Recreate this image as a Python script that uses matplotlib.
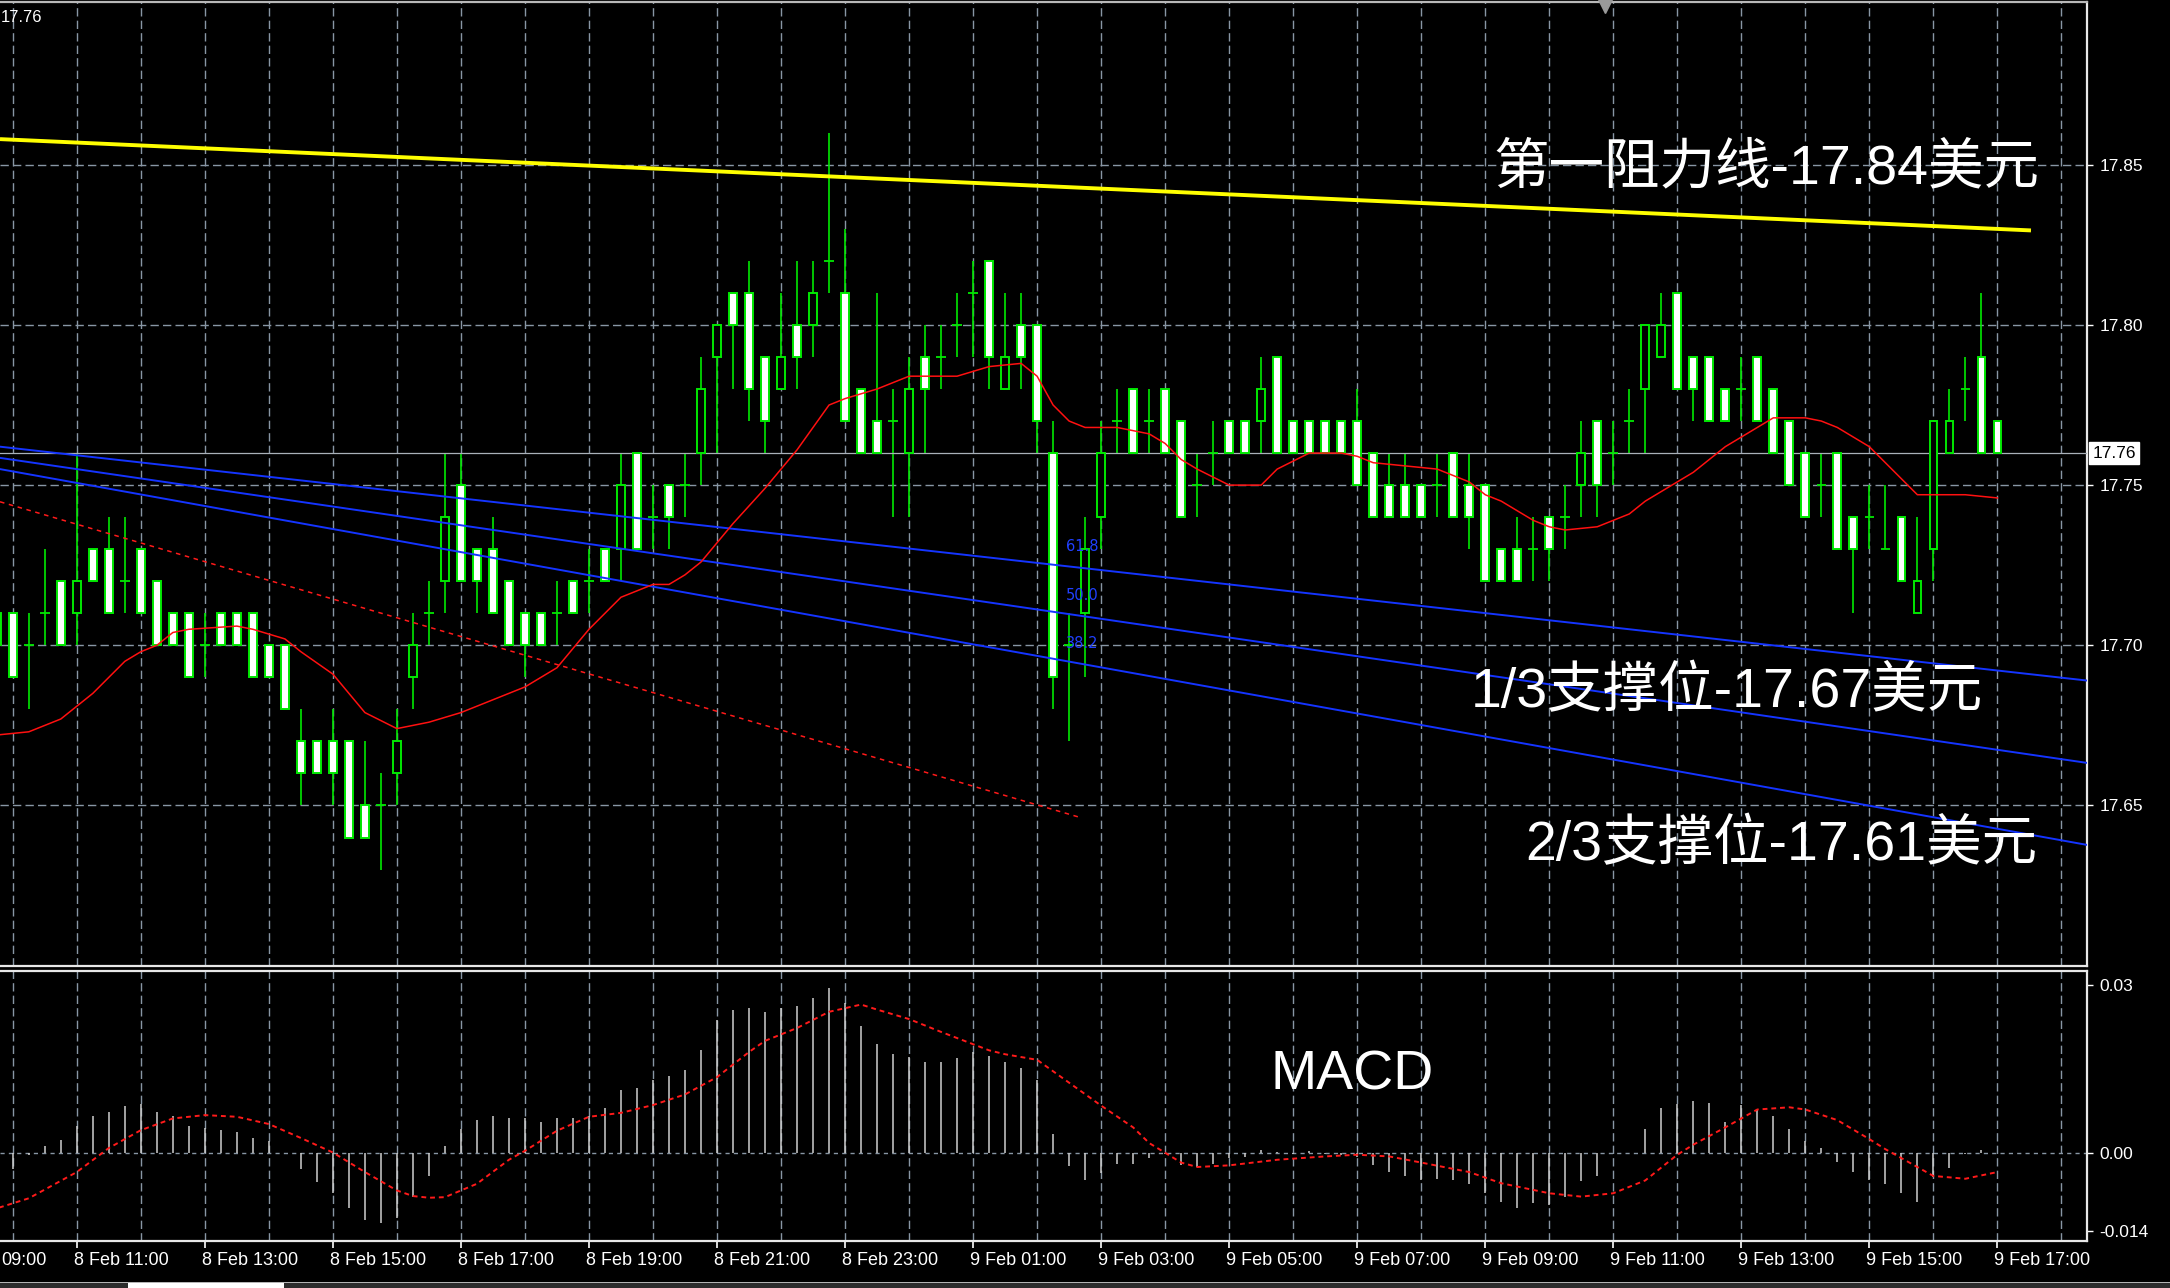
import numpy as np
import matplotlib
matplotlib.use('Agg')
import matplotlib.pyplot as plt
from matplotlib.patches import Rectangle

plt.rcParams['font.family'] = ['Liberation Sans', 'Noto Sans CJK SC', 'DejaVu Sans']

# 15 minute bars, x = number of quarter hours after 8 Feb 09:00
bar_idx = list(range(3, 129))
opens = [17.71, 17.71, 17.70, 17.71, 17.72, 17.71, 17.73, 17.73, 17.72, 17.73,
         17.72, 17.71, 17.71, 17.70, 17.71, 17.71, 17.71, 17.70, 17.70, 17.67,
         17.67, 17.67, 17.67, 17.65, 17.65, 17.66, 17.69, 17.71, 17.72, 17.75,
         17.73, 17.73, 17.72, 17.71, 17.71, 17.71, 17.72, 17.72, 17.73, 17.73,
         17.76, 17.74, 17.75, 17.75, 17.76, 17.79, 17.81, 17.81, 17.79, 17.78,
         17.80, 17.80, 17.82, 17.81, 17.78, 17.77, 17.77, 17.76, 17.79, 17.79,
         17.80, 17.81, 17.82, 17.78, 17.80, 17.80, 17.76, 17.70, 17.71, 17.74,
         17.77, 17.78, 17.77, 17.78, 17.77, 17.75, 17.76, 17.77, 17.77, 17.77,
         17.79, 17.77, 17.77, 17.77, 17.77, 17.77, 17.76, 17.75, 17.75, 17.75,
         17.75, 17.76, 17.75, 17.75, 17.73, 17.73, 17.73, 17.74, 17.74, 17.75,
         17.77, 17.76, 17.77, 17.78, 17.79, 17.81, 17.79, 17.79, 17.78, 17.78,
         17.79, 17.78, 17.77, 17.76, 17.75, 17.76, 17.74, 17.74, 17.73, 17.74,
         17.71, 17.73, 17.76, 17.78, 17.79, 17.77]
highs = [17.71, 17.71, 17.71, 17.73, 17.72, 17.76, 17.73, 17.74, 17.74, 17.73,
         17.72, 17.71, 17.71, 17.71, 17.71, 17.71, 17.71, 17.70, 17.70, 17.68,
         17.67, 17.68, 17.67, 17.67, 17.66, 17.68, 17.71, 17.72, 17.76, 17.76,
         17.73, 17.74, 17.72, 17.71, 17.71, 17.72, 17.72, 17.73, 17.73, 17.76,
         17.76, 17.75, 17.75, 17.76, 17.79, 17.80, 17.81, 17.82, 17.79, 17.81,
         17.82, 17.82, 17.86, 17.83, 17.78, 17.81, 17.78, 17.79, 17.80, 17.80,
         17.81, 17.82, 17.82, 17.81, 17.81, 17.80, 17.77, 17.71, 17.74, 17.77,
         17.78, 17.78, 17.78, 17.78, 17.77, 17.76, 17.77, 17.77, 17.77, 17.79,
         17.79, 17.77, 17.77, 17.77, 17.77, 17.78, 17.76, 17.76, 17.76, 17.75,
         17.76, 17.76, 17.76, 17.75, 17.73, 17.74, 17.74, 17.74, 17.75, 17.77,
         17.77, 17.77, 17.78, 17.80, 17.81, 17.81, 17.79, 17.79, 17.78, 17.79,
         17.79, 17.78, 17.77, 17.76, 17.76, 17.76, 17.74, 17.75, 17.75, 17.74,
         17.74, 17.77, 17.78, 17.79, 17.81, 17.77]
lows = [17.70, 17.69, 17.68, 17.70, 17.70, 17.70, 17.72, 17.71, 17.71, 17.71,
        17.70, 17.70, 17.69, 17.69, 17.70, 17.70, 17.69, 17.69, 17.68, 17.65,
        17.66, 17.65, 17.64, 17.64, 17.63, 17.65, 17.68, 17.70, 17.71, 17.72,
        17.71, 17.71, 17.70, 17.69, 17.70, 17.70, 17.71, 17.71, 17.72, 17.72,
        17.73, 17.73, 17.73, 17.74, 17.75, 17.76, 17.78, 17.77, 17.76, 17.78,
        17.78, 17.79, 17.81, 17.77, 17.76, 17.76, 17.74, 17.74, 17.76, 17.78,
        17.79, 17.79, 17.78, 17.78, 17.78, 17.76, 17.68, 17.67, 17.69, 17.73,
        17.76, 17.76, 17.76, 17.76, 17.74, 17.74, 17.75, 17.76, 17.76, 17.76,
        17.76, 17.76, 17.76, 17.76, 17.76, 17.75, 17.74, 17.74, 17.74, 17.74,
        17.74, 17.74, 17.73, 17.72, 17.72, 17.72, 17.72, 17.72, 17.73, 17.74,
        17.74, 17.75, 17.76, 17.76, 17.79, 17.78, 17.77, 17.77, 17.77, 17.77,
        17.77, 17.76, 17.75, 17.74, 17.74, 17.73, 17.71, 17.73, 17.73, 17.72,
        17.71, 17.72, 17.76, 17.77, 17.76, 17.76]
closes = [17.70, 17.69, 17.70, 17.71, 17.70, 17.72, 17.72, 17.71, 17.72, 17.71,
          17.70, 17.70, 17.69, 17.70, 17.70, 17.70, 17.69, 17.69, 17.68, 17.66,
          17.66, 17.66, 17.64, 17.64, 17.65, 17.67, 17.70, 17.71, 17.74, 17.72,
          17.72, 17.71, 17.70, 17.70, 17.70, 17.71, 17.71, 17.72, 17.72, 17.75,
          17.73, 17.74, 17.74, 17.75, 17.78, 17.80, 17.80, 17.78, 17.77, 17.79,
          17.79, 17.81, 17.82, 17.77, 17.76, 17.76, 17.77, 17.78, 17.78, 17.79,
          17.80, 17.81, 17.79, 17.79, 17.79, 17.77, 17.69, 17.70, 17.73, 17.76,
          17.77, 17.76, 17.77, 17.76, 17.74, 17.75, 17.76, 17.76, 17.76, 17.78,
          17.76, 17.76, 17.76, 17.76, 17.76, 17.75, 17.74, 17.74, 17.74, 17.74,
          17.75, 17.74, 17.74, 17.72, 17.72, 17.72, 17.73, 17.73, 17.74, 17.76,
          17.75, 17.76, 17.77, 17.80, 17.80, 17.78, 17.78, 17.77, 17.77, 17.78,
          17.77, 17.76, 17.75, 17.74, 17.75, 17.73, 17.73, 17.74, 17.73, 17.72,
          17.72, 17.77, 17.77, 17.78, 17.76, 17.76]

# red moving average, read at some bars
ma_idx = [3, 5, 7, 8, 9, 10, 11, 12, 13, 14, 15, 18, 19, 21, 22, 24, 26, 28, 30, 32,
          34, 36, 38, 40, 42, 44, 45, 46, 47, 49, 51, 53, 55, 56, 58, 60, 63, 65, 67, 68,
          69, 70, 71, 73, 75, 76, 77, 78, 80, 82, 83, 85, 87, 88, 89, 91, 93, 95, 96, 97,
          99, 100, 101, 103, 105, 106, 108, 109, 111, 113, 114, 116, 117, 118, 120, 121,
          123, 126, 128]
ma_vals = [17.672, 17.673, 17.677, 17.681, 17.685, 17.690, 17.695, 17.698, 17.700, 17.704,
           17.705, 17.706, 17.705, 17.702, 17.698, 17.691, 17.679, 17.674, 17.676, 17.679,
           17.683, 17.687, 17.693, 17.705, 17.715, 17.719, 17.719, 17.722, 17.726, 17.738,
           17.749, 17.761, 17.775, 17.777, 17.780, 17.784, 17.784, 17.787, 17.788, 17.784,
           17.775, 17.770, 17.768, 17.768, 17.766, 17.763, 17.758, 17.755, 17.750, 17.750,
           17.755, 17.760, 17.760, 17.759, 17.757, 17.756, 17.755, 17.751, 17.747, 17.745,
           17.739, 17.737, 17.736, 17.737, 17.741, 17.745, 17.751, 17.754, 17.762, 17.768,
           17.771, 17.771, 17.770, 17.768, 17.762, 17.757, 17.747, 17.747, 17.746]

# trend lines (x in bars, price)
yellow_x = [3.2, 130.1]
yellow_y = [17.858, 17.8295]
reddash_x = [3.2, 70.6]
reddash_y = [17.7448, 17.6464]
fan_x = [3.2, 133.6]
fan_y = [[17.762, 17.689], [17.7585, 17.6633], [17.755, 17.6377]]
fib_names = ['61.8', '50.0', '38.2']
fib_y = [17.7307, 17.7157, 17.7007]

# MACD
hist_idx = list(range(4, 129))
hist_vals = [-0.0030, -0.0005, 0.0011, 0.0022, 0.0047, 0.0066, 0.0072, 0.0083, 0.0086, 0.0072,
             0.0066, 0.0047, 0.0044, 0.0040, 0.0037, 0.0026, 0.0021, 0.0000, -0.0029, -0.0053,
             -0.0073, -0.0099, -0.0121, -0.0127, -0.0117, -0.0079, -0.0042, 0.0011, 0.0043, 0.0058,
             0.0065, 0.0061, 0.0061, 0.0054, 0.0061, 0.0061, 0.0066, 0.0079, 0.0112, 0.0115,
             0.0130, 0.0137, 0.0147, 0.0183, 0.0237, 0.0255, 0.0258, 0.0252, 0.0258, 0.0262,
             0.0276, 0.0294, 0.0267, 0.0226, 0.0194, 0.0176, 0.0171, 0.0162, 0.0162, 0.0170,
             0.0180, 0.0173, 0.0162, 0.0152, 0.0130, 0.0034, -0.0024, -0.0050, -0.0036, -0.0020,
             -0.0020, -0.0009, -0.0003, -0.0023, -0.0026, -0.0020, -0.0010, -0.0008, 0.0004, 0.0001,
             -0.0003, 0.0002, -0.0002, -0.0004, -0.0008, -0.0023, -0.0035, -0.0042, -0.0050, -0.0048,
             -0.0050, -0.0056, -0.0073, -0.0088, -0.0099, -0.0091, -0.0094, -0.0079, -0.0051, -0.0042,
             0.0000, 0.0000, 0.0043, 0.0079, 0.0087, 0.0093, 0.0089, 0.0055, 0.0085, 0.0077,
             0.0065, 0.0043, 0.0021, 0.0008, -0.0017, -0.0035, -0.0050, -0.0056, -0.0073, -0.0088,
             -0.0044, -0.0027, -0.0002, 0.0004, 0.0000]
sig_idx = [3, 5, 8, 10, 12, 14, 16, 18, 20, 22, 24, 26, 28, 29, 30, 31, 33, 35, 36, 38,
           40, 42, 44, 46, 48, 50, 51, 53, 55, 57, 58, 60, 62, 65, 66, 68, 70, 72, 74, 75,
           77, 78, 80, 83, 86, 88, 90, 92, 95, 97, 100, 102, 104, 106, 107, 108, 109, 111, 113, 115,
           116, 118, 120, 121, 123, 124, 126, 128]
sig_vals = [-0.0100, -0.0082, -0.0035, 0.0008, 0.0040, 0.0061, 0.0067, 0.0064, 0.0051, 0.0026,
            0.0000, -0.0035, -0.0068, -0.0078, -0.0081, -0.0080, -0.0056, -0.0013, 0.0003, 0.0039,
            0.0064, 0.0071, 0.0085, 0.0104, 0.0135, 0.0180, 0.0200, 0.0223, 0.0252, 0.0265,
            0.0256, 0.0239, 0.0216, 0.0183, 0.0176, 0.0166, 0.0125, 0.0084, 0.0045, 0.0017,
            -0.0018, -0.0026, -0.0023, -0.0013, -0.0007, -0.0004, -0.0007, -0.0018, -0.0035, -0.0055,
            -0.0073, -0.0079, -0.0073, -0.0050, -0.0027, -0.0004, 0.0014, 0.0045, 0.0077, 0.0081,
            0.0077, 0.0058, 0.0024, 0.0006, -0.0026, -0.0042, -0.0047, -0.0035]

time_ticks = list(range(8, 129, 8))
time_labels = ['8 Feb 11:00', '8 Feb 13:00', '8 Feb 15:00', '8 Feb 17:00',
               '8 Feb 19:00', '8 Feb 21:00', '8 Feb 23:00', '9 Feb 01:00', '9 Feb 03:00',
               '9 Feb 05:00', '9 Feb 07:00', '9 Feb 09:00', '9 Feb 11:00', '9 Feb 13:00',
               '9 Feb 15:00', '9 Feb 17:00']
first_label = '09:00'   # tail of "8 Feb 09:00", cut by the window edge
price_ticks = [17.65, 17.70, 17.75, 17.80, 17.85]
macd_ticks = [0.03, 0.0, -0.014]
macd_labels = ['0.03', '0.00', '-0.014']
last_price = 17.76

GREEN = '#00e800'
GRID = '#8896a4'
W, H = 2170, 1288

fig = plt.figure(figsize=(W / 100, H / 100), dpi=100, facecolor='black')
ax = fig.add_axes([0, 1 - 966 / H, 2087 / W, 964 / H], facecolor='black')
ax2 = fig.add_axes([0, 1 - 1241 / H, 2087 / W, 270 / H], facecolor='black')

xlim = (3.2, 133.6)
ax.set_xlim(*xlim)
ax.set_ylim(17.5999, 17.9008)
ax2.set_xlim(*xlim)
ax2.set_ylim(-0.01585, 0.03251)

# grid
for a in (ax, ax2):
    for gx in range(4, 134, 4):
        a.axvline(gx, color=GRID, lw=1.0, ls=(0, (6, 3)), zorder=1)
for gy in price_ticks:
    ax.axhline(gy, color=GRID, lw=1.0, ls=(0, (6, 3)), zorder=1)
ax2.axhline(0, color=GRID, lw=1.0, ls=(0, (3, 3)), zorder=1)

# candles
x = np.array(bar_idx, dtype=float)
o = np.array(opens); c = np.array(closes)
ax.vlines(x, lows, highs, color=GREEN, lw=1.2, zorder=2.5)
ax.axhline(last_price, color='#a9b1b9', lw=0.9, zorder=2.6)
for xi, oi, ci in zip(x, o, c):
    if abs(oi - ci) < 1e-9:
        ax.hlines(oi, xi - 0.3, xi + 0.3, color=GREEN, lw=1.3, zorder=3)
    else:
        fc = 'white' if ci < oi else 'black'
        ax.bar(xi, abs(ci - oi), bottom=min(oi, ci), width=0.48, color=fc,
               edgecolor=GREEN, linewidth=1.4, zorder=3)

# lines
ax.plot(yellow_x, yellow_y, color='#ffff00', lw=2.8, zorder=4, solid_capstyle='butt')
ax.plot(reddash_x, reddash_y, color='#ff1a1a', lw=1.1, ls=(0, (3, 3)), zorder=4)
for fy in fan_y:
    ax.plot(fan_x, fy, color='#1434ff', lw=1.4, zorder=4)
ax.plot(ma_idx, ma_vals, color='#ff1010', lw=1.1, zorder=4)
for name, fy in zip(fib_names, fib_y):
    ax.text(69.8, fy, name, color='#2040ff', fontsize=10.5, family='DejaVu Sans',
            va='center', ha='left', zorder=5)

# annotations
big = dict(color='white', fontsize=40, zorder=6)
ax.text(130.6, 17.8486, '第一阻力线-17.84美元', ha='right', va='center', **big)
ax.text(127.1, 17.6851, '1/3支撑位-17.67美元', ha='right', va='center', **big)
ax.text(130.5, 17.6372, '2/3支撑位-17.61美元', ha='right', va='center', **big)
ax2.text(82.6, 0.0138, 'MACD', ha='left', va='center', color='white', fontsize=40, zorder=6)

# MACD
ax2.vlines(hist_idx, 0, hist_vals, color='#cfcfcf', lw=1.1, zorder=3)
ax2.plot(sig_idx, sig_vals, color='#ff1a1a', lw=1.4, ls=(0, (2.5, 2)), zorder=4)

# axes styling
for a in (ax, ax2):
    a.spines['left'].set_visible(False)
    for s in ('top', 'right', 'bottom'):
        a.spines[s].set_color('#e8e8e8')
        a.spines[s].set_linewidth(1.6)
    a.yaxis.tick_right()
    a.tick_params(axis='y', colors='white', labelsize=12.5, length=4, width=1, pad=5)
ax.spines['top'].set_color('#b8b8b8')

ax.set_yticks(price_ticks)
ax.set_yticklabels(['%.2f' % p for p in price_ticks])
ax.set_xticks([])
ax2.set_yticks(macd_ticks)
ax2.set_yticklabels(macd_labels)
ax2.set_xticks(time_ticks)
ax2.tick_params(axis='x', colors='white', length=5, width=1.2, labelbottom=False)

xt = ax2.get_xaxis_transform()
for t, lab in zip(time_ticks, time_labels):
    ax2.text(t - 0.2, -0.072, lab, transform=xt, color='white', fontsize=13,
             ha='left', va='center', clip_on=False)
ax2.text(0.0005, -0.072, first_label, transform=ax2.transAxes, color='white', fontsize=13,
         ha='left', va='center', clip_on=False)

# current price box
yt = ax.get_yaxis_transform()
ax.text(1.0025, last_price, '17.76', transform=yt, color='black', fontsize=12.5,
        ha='left', va='center', clip_on=False,
        bbox=dict(boxstyle='square,pad=0.2', facecolor='white', edgecolor='white'))

# shift marker and top-left price
ax.plot([103.5], [0.996], transform=ax.get_xaxis_transform(), marker='v',
        color='#9a9a9a', markersize=10, clip_on=False, zorder=6)
fig.text(0.0005, 1 - 17 / H, '17.76', color='white', fontsize=12, ha='left', va='center')

# bottom tab bar
fig.patches.append(Rectangle((0, 0), 1, 5 / H, transform=fig.transFigure,
                             facecolor='#2c2c2c', edgecolor='none'))
fig.patches.append(Rectangle((0, 5 / H), 1, 1.5 / H, transform=fig.transFigure,
                             facecolor='#b4b4b4', edgecolor='none'))
fig.patches.append(Rectangle((128 / W, 0), 156 / W, 5 / H, transform=fig.transFigure,
                             facecolor='white', edgecolor='none'))

fig.savefig('out.png', dpi=100, facecolor='black')
